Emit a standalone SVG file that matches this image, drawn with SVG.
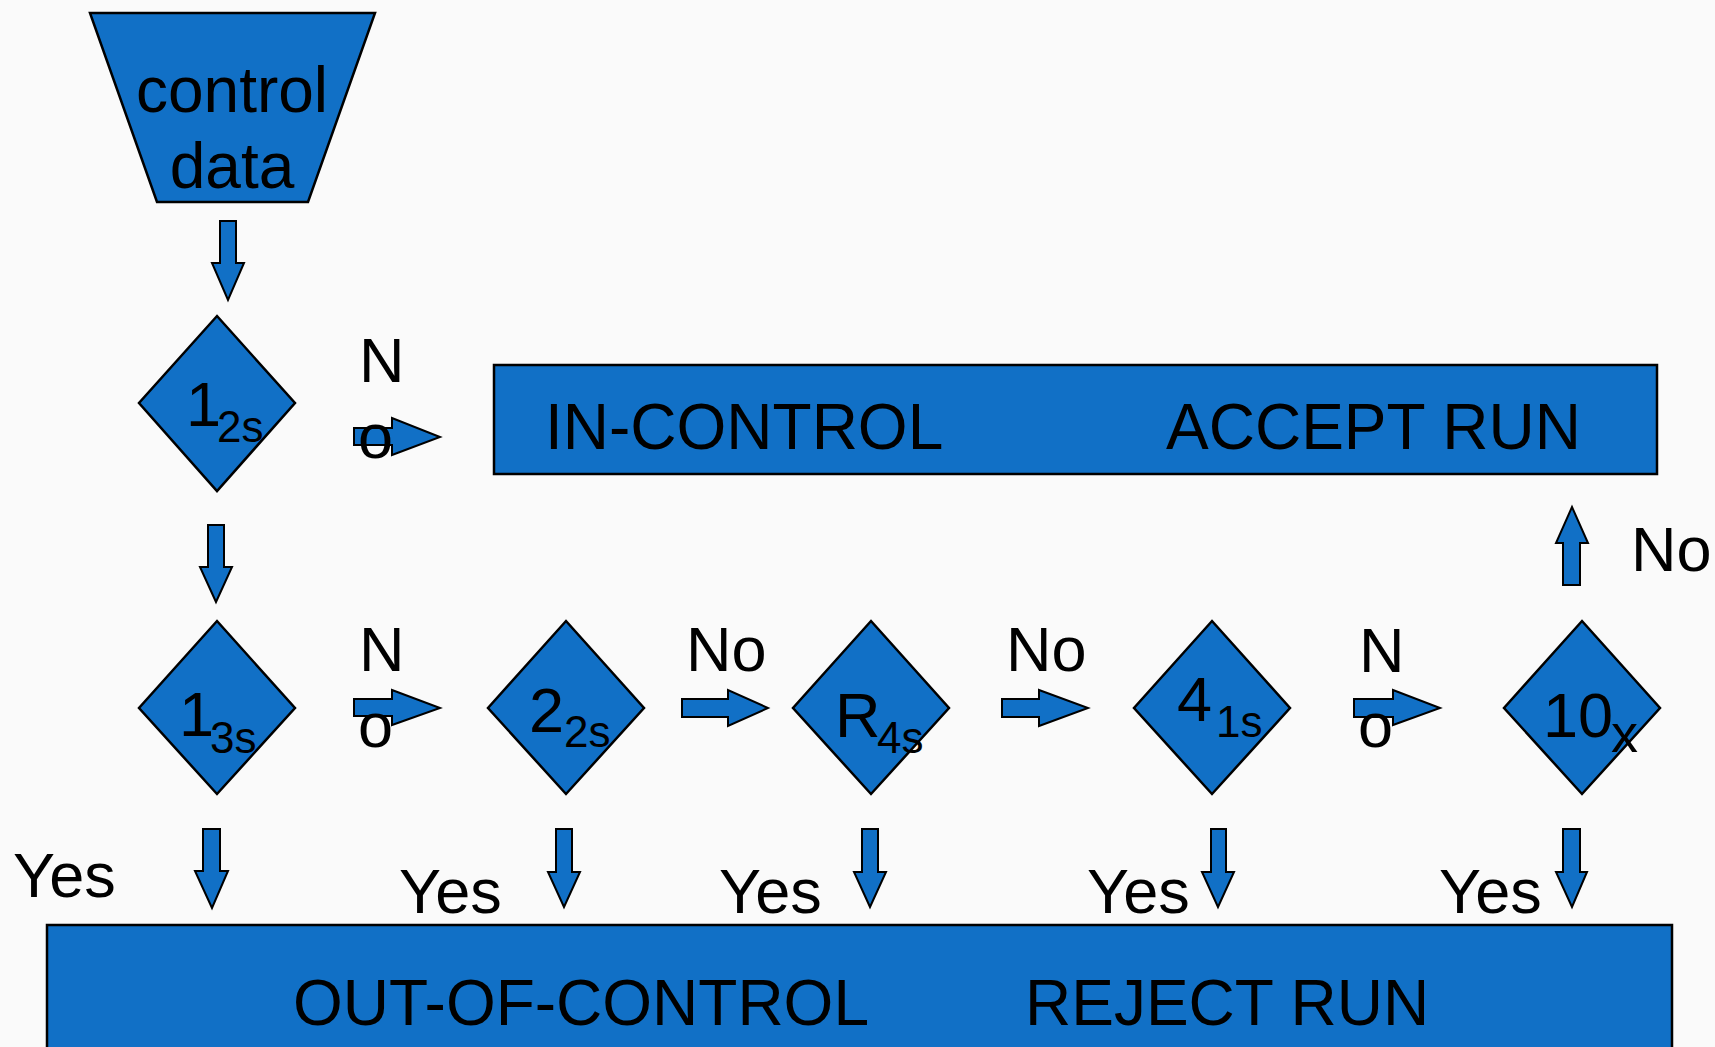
<svg xmlns="http://www.w3.org/2000/svg" width="1715" height="1047" viewBox="0 0 1715 1047">
<style>
.shape{fill:#1170c6;stroke:#000;stroke-width:2.5}
.arr{fill:#1170c6;stroke:#000;stroke-width:2}
text{font-family:"Liberation Sans",Arial,sans-serif;fill:#000}
.t{font-size:63px}
.b{font-size:64px}
.sub{font-size:44px}
</style>
<rect x="0" y="0" width="1715" height="1047" fill="#fafafa"/>
<g id="control-data">
<polygon class="shape" points="90,13 375,13 308,202 157,202"/>
<text class="b" x="232" y="112" text-anchor="middle">control</text>
<text class="b" x="232" y="188" text-anchor="middle">data</text>
</g>
<g id="in-control">
<rect class="shape" x="494" y="365" width="1163" height="109"/>
<text class="b" x="545" y="449">IN-CONTROL</text>
<text class="b" x="1166" y="449">ACCEPT RUN</text>
</g>
<g id="out-of-control">
<rect class="shape" x="47" y="925" width="1625" height="140"/>
<text class="b" x="293" y="1025">OUT-OF-CONTROL</text>
<text class="b" x="1025" y="1025">REJECT RUN</text>
</g>
<g id="d-1-2s">
<polygon class="shape" points="217,316 295,403 217,491 139,403"/>
<text class="t" x="186" y="426">1<tspan class="sub" x="217" y="442">2s</tspan></text>
</g>
<g id="d-1-3s">
<polygon class="shape" points="217,621 295,708 217,794 139,708"/>
<text class="t" x="179" y="736">1<tspan class="sub" x="210" y="753">3s</tspan></text>
</g>
<g id="d-2-2s">
<polygon class="shape" points="566,621 644,708 566,794 488,708"/>
<text class="t" x="529" y="732">2<tspan class="sub" x="564" y="747">2s</tspan></text>
</g>
<g id="d-r-4s">
<polygon class="shape" points="871,621 949,708 871,794 793,708"/>
<text class="t" x="835" y="737">R<tspan class="sub" x="877" y="753">4s</tspan></text>
</g>
<g id="d-4-1s">
<polygon class="shape" points="1212,621 1290,708 1212,794 1134,708"/>
<text class="t" x="1177" y="721">4<tspan class="sub" x="1216" y="737">1s</tspan></text>
</g>
<g id="d-10x">
<polygon class="shape" points="1582,621 1660,708 1582,794 1504,708"/>
<text class="t" x="1543" y="737">10<tspan style="font-size:54px" x="1611" y="752">x</tspan></text>
</g>
<g id="connectors">
<polygon class="arr" points="220,221 236,221 236,263 244,263 228,300 212,263 220,263"/>
<polygon class="arr" points="208,525 224,525 224,567 232,567 216,602 200,567 208,567"/>
<polygon class="arr" points="354,428 392,428 392,418 440,437 392,455 392,445 354,445"/>
<polygon class="arr" points="354,699 392,699 392,690 440,708 392,725 392,716 354,716"/>
<polygon class="arr" points="682,699 728,699 728,690 768,708 728,726 728,717 682,717"/>
<polygon class="arr" points="1002,699 1039,699 1039,690 1088,708 1039,726 1039,717 1002,717"/>
<polygon class="arr" points="1354,699 1393,699 1393,690 1440,708 1393,725 1393,717 1354,717"/>
<polygon class="arr" points="1563,585 1580,585 1580,543 1588,543 1572,507 1556,543 1563,543"/>
<polygon class="arr" points="203,829 220,829 220,871 228,871 212,908 195,871 203,871"/>
<polygon class="arr" points="556,829 572,829 572,872 580,872 564,907 548,872 556,872"/>
<polygon class="arr" points="862,829 878,829 878,872 886,872 870,907 854,872 862,872"/>
<polygon class="arr" points="1211,829 1226,829 1226,872 1234,872 1218,907 1202,872 1211,872"/>
<polygon class="arr" points="1563,829 1580,829 1580,872 1587,872 1572,907 1556,872 1563,872"/>
</g>
<g id="labels">
<text class="t" x="359" y="382">N</text>
<text class="t" x="358" y="458">o</text>
<text class="t" x="359" y="671">N</text>
<text class="t" x="358" y="747">o</text>
<text class="t" x="686" y="671">No</text>
<text class="t" x="1006" y="671">No</text>
<text class="t" x="1359" y="672">N</text>
<text class="t" x="1358" y="747">o</text>
<text class="t" x="1631" y="571">No</text>
<text class="t" x="13" y="897">Yes</text>
<text class="t" x="399" y="913">Yes</text>
<text class="t" x="719" y="913">Yes</text>
<text class="t" x="1087" y="913">Yes</text>
<text class="t" x="1439" y="913">Yes</text>
</g>
</svg>
